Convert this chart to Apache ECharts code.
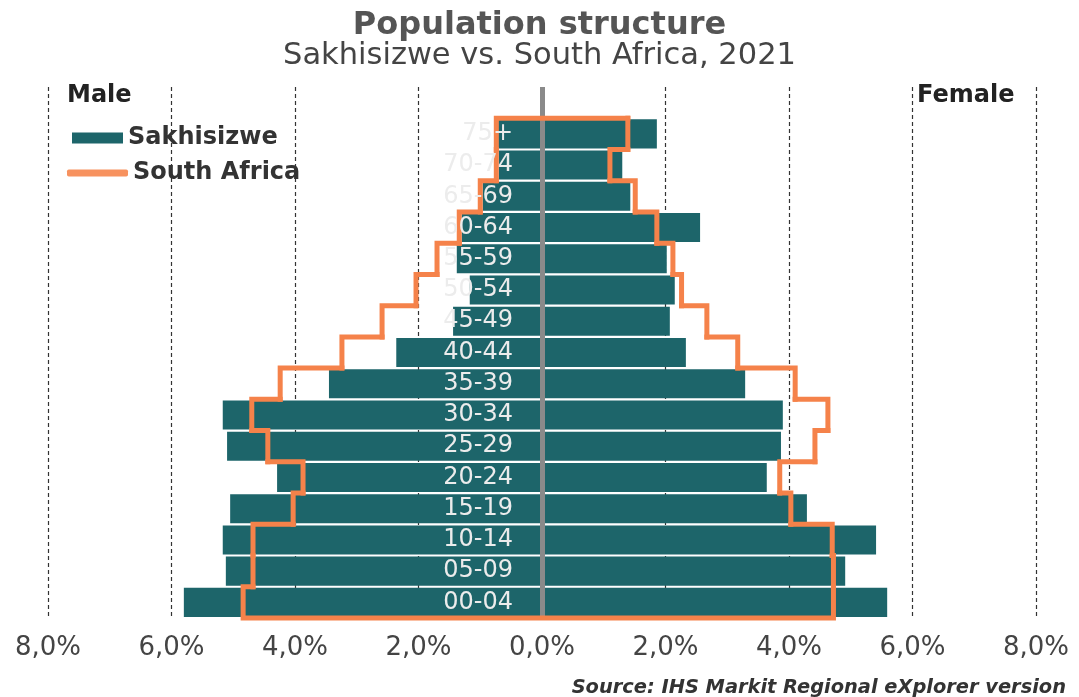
<!DOCTYPE html>
<html>
<head>
<meta charset="utf-8">
<script src="https://cdn.jsdelivr.net/npm/echarts@6/dist/echarts.min.js"></script>
<style>
  html, body { margin: 0; padding: 0; background: #fff; }
  #chart { width: 1079px; height: 697px; }
</style>
</head>
<body>
<div id="chart"></div>
<script>
  // age groups, bottom to top
  const ageGroups = ['00-04', '05-09', '10-14', '15-19', '20-24', '25-29', '30-34', '35-39',
    '40-44', '45-49', '50-54', '55-59', '60-64', '65-69', '70-74', '75+'];

  // Sakhisizwe, % of population
  const sakMale = [5.80, 5.12, 5.17, 5.05, 4.29, 5.10, 5.17, 3.45, 2.36, 1.44, 1.17, 1.38, 1.30, 0.96, 0.70, 0.71];
  const sakFemale = [5.59, 4.91, 5.41, 4.29, 3.64, 3.87, 3.90, 3.29, 2.33, 2.07, 2.15, 2.02, 2.56, 1.43, 1.30, 1.86];

  // South Africa, % of population
  const saMale = [4.84, 4.68, 4.68, 4.03, 3.87, 4.44, 4.70, 4.24, 3.24, 2.59, 2.04, 1.70, 1.34, 1.00, 0.74, 0.74];
  const saFemale = [4.72, 4.72, 4.70, 4.03, 3.85, 4.42, 4.63, 4.10, 3.17, 2.67, 2.26, 2.12, 1.86, 1.51, 1.10, 1.39];

  const xTicks = [-8, -6, -4, -2, 0, 2, 4, 6, 8];

  const teal = '#1d656a';
  const orange = '#f5824a';
  const font = '"DejaVu Sans", Verdana, sans-serif';

  const chart = echarts.init(document.getElementById('chart'));

  // outline of South Africa drawn as steps along the band edges
  const renderOutline = (params, api) => {
    const i = api.value(0);
    const m = api.value(1);
    const f = api.value(2);
    const n = ageGroups.length;
    const h = api.size([0, 1])[1];
    const yc = api.coord([0, i])[1];
    const top = yc - h / 2;
    const bot = yc + h / 2;
    const px = (v) => api.coord([v, i])[0];

    const left = [[i < n - 1 ? px(-saMale[i + 1]) : px(f), top], [px(-m), top], [px(-m), bot]];
    const style = { stroke: orange, lineWidth: 5, fill: null, lineCap: 'square', lineJoin: 'miter' };
    const children = [];
    if (i === 0) {
      left.push([px(f), bot], [px(f), top], [px(saFemale[1]), top]);
    } else {
      const right = [[i < n - 1 ? px(saFemale[i + 1]) : px(f), top], [px(f), top], [px(f), bot]];
      children.push({ type: 'polyline', shape: { points: right }, style });
    }
    children.push({ type: 'polyline', shape: { points: left }, style });
    return { type: 'group', children };
  };

  const option = {
    animation: false,
    title: [
      {
        text: 'Population structure',
        left: 'center',
        top: 5,
        textStyle: { fontFamily: font, fontSize: 32, fontWeight: 'bold', color: '#555' },
      },
      {
        text: 'Sakhisizwe vs. South Africa, 2021',
        left: 'center',
        top: 36,
        textStyle: { fontFamily: font, fontSize: 30.5, fontWeight: 'normal', color: '#444' },
      },
    ],
    legend: [
      {
        orient: 'vertical',
        left: 67,
        top: 121,
        icon: 'rect',
        itemWidth: 51,
        itemHeight: 11,
        textStyle: { fontFamily: font, fontSize: 24, fontWeight: 'bold', color: '#333' },
        data: [{ name: 'Sakhisizwe', itemStyle: { color: teal } }],
      },
      {
        orient: 'vertical',
        left: 62,
        top: 156,
        icon: 'roundRect',
        itemWidth: 61,
        itemHeight: 7,
        textStyle: { fontFamily: font, fontSize: 24, fontWeight: 'bold', color: '#333' },
        data: [{ name: 'South Africa', itemStyle: { color: '#f7925f' } }],
      },
    ],
    grid: {
      left: 48,
      right: 43,
      top: 87,
      bottom: 79,
      containLabel: false,
      outerBoundsMode: 'none',
    },
    xAxis: {
      type: 'value',
      min: xTicks[0],
      max: xTicks[xTicks.length - 1],
      interval: 2,
      axisLine: { show: false },
      axisTick: { show: false },
      splitLine: {
        show: true,
        lineStyle: { color: '#333', width: 1.2, type: [4, 3] },
      },
      axisLabel: {
        margin: 17,
        fontFamily: font,
        fontSize: 26,
        color: '#444',
        formatter: (v) => Math.abs(v).toFixed(1).replace('.', ',') + '%',
      },
    },
    yAxis: {
      type: 'category',
      data: ageGroups.concat(['']),
      z: 10,
      axisLine: { show: false, onZero: false },
      axisTick: { show: false },
      splitLine: { show: false },
      axisLabel: {
        // labels sit just left of the zero line
        margin: -465,
        align: 'right',
        fontFamily: font,
        fontSize: 24,
        color: '#ececec',
      },
    },
    graphic: [
      {
        type: 'text',
        left: 67,
        top: 84,
        style: { text: 'Male', font: 'bold 24px ' + font, fill: '#222' },
      },
      {
        type: 'text',
        left: 917,
        top: 84,
        style: { text: 'Female', font: 'bold 24px ' + font, fill: '#222' },
      },
      {
        type: 'text',
        right: 13,
        top: 678,
        style: { text: 'Source: IHS Markit Regional eXplorer version', font: 'italic bold 19.4px ' + font, fill: '#333' },
      },
    ],
    series: [
      {
        name: 'Sakhisizwe',
        type: 'bar',
        barGap: '-100%',
        barCategoryGap: '7%',
        itemStyle: { color: teal },
        data: sakMale.map((v) => -v),
      },
      {
        name: 'Sakhisizwe',
        type: 'bar',
        barGap: '-100%',
        barCategoryGap: '7%',
        itemStyle: { color: teal },
        data: sakFemale,
        markLine: {
          silent: true,
          symbol: 'none',
          label: { show: false },
          lineStyle: { color: '#8a8a8a', width: 5, type: 'solid' },
          data: [{ xAxis: 0 }],
        },
      },
      {
        name: 'South Africa',
        type: 'custom',
        z: 5,
        clip: false,
        itemStyle: { color: orange },
        encode: { x: [1, 2], y: 0 },
        renderItem: renderOutline,
        data: ageGroups.map((g, i) => [i, saMale[i], saFemale[i]]),
      },
    ],
  };

  chart.setOption(option);
  window.addEventListener('resize', () => chart.resize());
</script>
</body>
</html>
